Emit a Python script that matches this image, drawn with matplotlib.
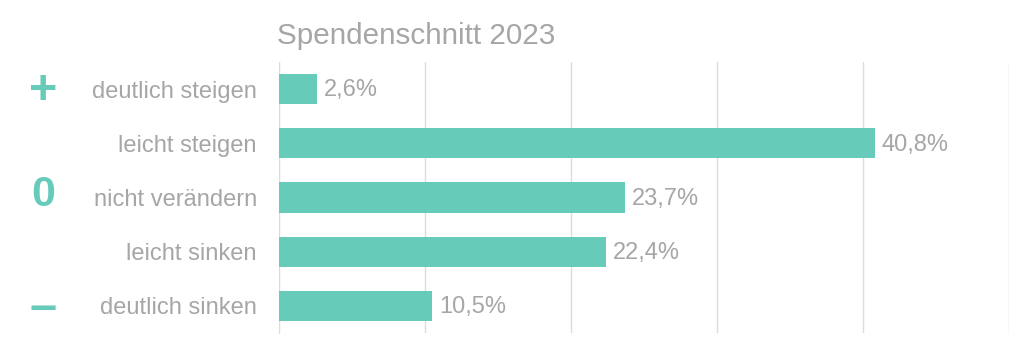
import matplotlib.pyplot as plt

# data
categories = ['deutlich steigen', 'leicht steigen', 'nicht verändern', 'leicht sinken', 'deutlich sinken']
values = [2.6, 40.8, 23.7, 22.4, 10.5]
symbols = ['+', '0', '–']
symbol_rows = [0, 2, 4]
title = 'Spendenschnitt 2023'

teal = '#66CBB9'
gray = '#A6A6A6'
grid = '#DCDCDC'

plt.rcParams['font.family'] = ['Liberation Sans', 'DejaVu Sans']

fig = plt.figure(figsize=(10.24, 3.48), dpi=100)
ax = fig.add_axes([0.2725, 0.043, 0.713, 0.779])

y = list(range(len(categories)))
ax.barh(y, values, height=0.56, color=teal, zorder=3)
ax.set_xlim(0, 50)
ax.set_ylim(len(categories) - 0.5, -0.5)
ax.set_xticks([0, 10, 20, 30, 40, 50])
ax.xaxis.grid(True, color=grid, linewidth=1, zorder=0)
ax.tick_params(axis='both', length=0)
ax.set_xticklabels([])
ax.set_yticks(y)
ax.set_yticklabels(categories, fontsize=17, color=gray)
ax.tick_params(axis='y', pad=16)
for s in ['top', 'right', 'bottom']:
    ax.spines[s].set_visible(False)
ax.spines['left'].set_color(grid)

for yi, v in zip(y, values):
    ax.annotate(f'{v:.1f}%'.replace('.', ','), (v, yi), xytext=(5, -1),
                textcoords='offset points', va='center', ha='left',
                fontsize=17, color=gray)

# +, 0, - markers on the left
sym_size = {'+': 35, '0': 31, '–': 35}
sym_dy = {'+': -2, '0': 2, '–': -3}
for sym, row in zip(symbols, symbol_rows):
    ax.annotate(sym, (0, row), xycoords=('figure fraction', 'data'),
                xytext=(43, sym_dy[sym]), textcoords='offset pixels',
                ha='center', va='center', fontsize=sym_size[sym],
                fontweight='bold', color=teal)

fig.text(277 / 1024, 1 - 36 / 348, title, fontsize=21.3, color=gray,
         ha='left', va='center')

fig.savefig('out.png', dpi=100)
